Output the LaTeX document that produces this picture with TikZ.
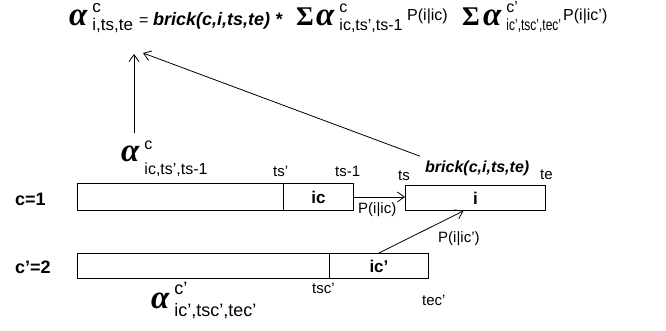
\documentclass[tikz,border=0pt]{standalone}
\usepackage{fontspec}
\setmainfont{Liberation Sans}
\newfontfamily\greekserif{Liberation Serif}
\usetikzlibrary{arrows.meta}

% alpha with stacked super/subscript: #1 sup, #2 sub, #3 raise, #4 drop
\newcommand{\alphaterm}[4]{%
  {\greekserif\bfseries\itshape\fontsize{33}{33}\selectfont α}\hspace{5pt}%
  \rlap{\raisebox{#3}{#1}}\raisebox{-#4}{#2}}
\newcommand{\bigsum}{{\greekserif\bfseries\fontsize{27}{27}\selectfont Σ}}

\tikzset{
  lbl/.style={inner sep=0pt, anchor=base west, font=\fontsize{15}{15}\selectfont},
  celltxt/.style={font=\bfseries\fontsize{17}{17}\selectfont},
  cell/.style={draw, line width=0.9pt, inner sep=0pt, anchor=north west, celltxt},
  arr/.style={->, line width=0.8pt, >={Straight Barb[length=7pt,width=10pt]}}
}

\begin{document}
\begin{tikzpicture}[x=1pt,y=-1pt]
\useasboundingbox (0,0) rectangle (666,331);

% top formula
\node[lbl, font=\fontsize{17}{17}\selectfont] (alphaL) at (69,26) {\alphaterm{c}{i,ts,te}{13pt}{5pt}};
\node[lbl, font=\fontsize{16}{16}\selectfont] (eq) at (139,26) {=};
\node[lbl, font=\bfseries\itshape\fontsize{18}{18}\selectfont] (brickT) at (153,26) {brick(c,i,ts,te) *};
\node[lbl] (sumA) at (296,26) {\bigsum};
\node[lbl, font=\fontsize{16}{16}\selectfont] (alphaM) at (316,26) {\alphaterm{c}{ic,ts',ts-1}{13pt}{5pt}};
\node[lbl, font=\fontsize{16}{16}\selectfont] (probA) at (407,21) {P(i|ic)};
\node[lbl] (sumB) at (462,26) {\bigsum};
\node[lbl, font=\fontsize{16}{16}\selectfont] (alphaR) at (483,26) {\alphaterm{c'}{\scalebox{0.75}[1]{ic',tsc',tec'}}{13pt}{5pt}};
\node[lbl, font=\fontsize{16}{16}\selectfont] (probB) at (563,21) {P(i|ic')};

% rows
\node[lbl, font=\bfseries\fontsize{18}{18}\selectfont] (rowone) at (15,205) {c=1};
\node[lbl, font=\bfseries\fontsize{18}{18}\selectfont] (rowtwo) at (15,273) {c'=2};

\node[cell, minimum width=206pt, minimum height=27pt] (rowA) at (77,183) {};
\node[cell, minimum width=70pt, minimum height=27pt] (cellic) at (283,183) {ic};
\node[cell, minimum width=140pt, minimum height=25pt] (boxi) at (405,185) {i};
\node[cell, minimum width=252pt, minimum height=25pt] (rowB) at (77,253) {};
\node[cell, minimum width=99pt, minimum height=25pt] (cellicp) at (329,253) {ic'};

% time labels
\node[lbl, font=\fontsize{16}{16}\selectfont] (alphaIC) at (121,162) {\alphaterm{c}{ic,ts',ts-1}{12pt}{13pt}};
\node[lbl] (tsp) at (273,177) {ts'};
\node[lbl] (tsm) at (335,177) {ts-1};
\node[lbl] (ts) at (398,181) {ts};
\node[lbl] (te) at (540,179) {te};
\node[lbl, font=\bfseries\itshape\fontsize{16}{16}\selectfont] (brickB) at (425,172) {brick(c,i,ts,te)};
\node[lbl] (tscp) at (312,293) {tsc'};
\node[lbl] (tecp) at (422,305) {tec'};
\node[lbl, font=\fontsize{18}{18}\selectfont] (alphaICP) at (151,308) {\alphaterm{c'}{ic',tsc',tec'}{14pt}{8pt}};
\node[lbl] (pic) at (358,213) {P(i|ic)};
\node[lbl] (picp) at (438,242) {P(i|ic')};

% arrows
\coordinate (tipV) at (134,54);
\coordinate (tipD) at (143,53);
\draw[arr] (alphaIC.north -| tipV) ++(0,-8) -- (tipV);
\draw[arr] (brickB.north west) ++(-5,-4) -- (tipD);
\draw[arr] (cellic.east) -- (cellic.east -| boxi.west);
\draw[arr] (cellicp.north) -- ([xshift=-12pt]boxi.south);
\end{tikzpicture}
\end{document}
